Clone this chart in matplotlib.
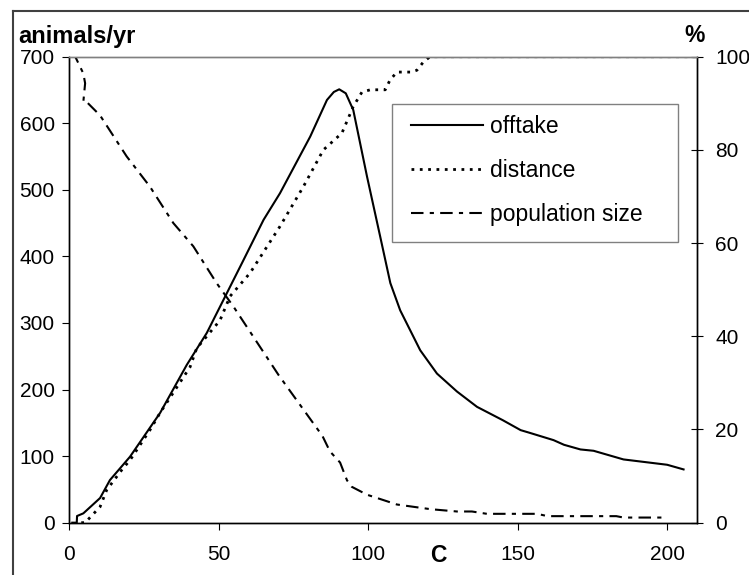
import matplotlib.pyplot as plt
from matplotlib.lines import Line2D
from matplotlib.patches import Rectangle

plt.rcParams['font.family'] = ['Liberation Sans', 'DejaVu Sans']

# offtake, animals/yr (left axis)
offtake_c = [1, 2.5, 2.6, 4.7, 10.3, 13.6, 20.3, 30.4, 39.3, 46, 51.5, 58, 65, 70.5, 80.6,
             86.2, 88.5, 90.3, 92.5, 95, 99.6, 104, 107.4, 110.7, 117.4, 123, 129.7, 136.4,
             145, 151, 154, 162, 165.5, 171, 175.4, 185.4, 200, 205.5]
offtake = [0, 0, 10, 14, 37, 64, 99, 165, 237, 285, 334, 392, 455, 495, 580,
           635, 647, 651, 645, 620, 520, 430, 360, 319, 259, 224, 197, 174,
           154, 139, 135, 124, 117, 110, 108, 95, 87, 80]

# distance, % (right axis)
distance_c = [4, 5.3, 10.3, 12.5, 18, 20.3, 27, 30.4, 40.4, 42.6, 50.4, 53.8, 60.5, 70.5,
              78.3, 85, 91.2, 95, 97.9, 100.7, 105.7, 107.3, 109.6, 114.5, 116.3, 118.5,
              120.7, 210]
distance = [0, 0, 3.4, 7.0, 11.7, 13.4, 19.9, 23.6, 33.4, 37.4, 43.4, 48.6, 53.6, 63.6,
            72.1, 80.0, 83.6, 89.3, 92.4, 92.9, 92.9, 95.0, 96.7, 96.7, 97.1, 98.9,
            100, 100]

# population size, % (right axis)
pop_c = [0, 2, 4.7, 5.3, 4.7, 5.8, 10.3, 19.2, 27, 34.8, 41.5, 49.3, 55, 70, 84.7, 87.2,
         90.6, 92.9, 94.5, 99.6, 109.6, 120.8, 129.7, 134.7, 139.7, 156.5, 160, 183,
         185.4, 200]
pop = [100, 100, 96.4, 94.3, 90.3, 90.3, 87.4, 78.6, 72.1, 64.3, 59.3, 51.4, 46.3, 31.7,
       18.6, 15.3, 12.9, 9.1, 7.7, 6.0, 3.9, 2.9, 2.4, 2.4, 1.9, 1.9, 1.4, 1.4, 1.1, 1.1]

W, H = 749, 575
fig = plt.figure(figsize=(W / 100, H / 100), dpi=100)
ax = fig.add_axes([0.0925, 0.091, 0.8381, 0.8104])
ax2 = ax.twinx()

l1, = ax.plot(offtake_c, offtake, color='black', lw=1.5)
l2, = ax2.plot(distance_c, distance, color='black', lw=2, ls=(0, (1, 2)))
l3, = ax2.plot(pop_c, pop, color='black', lw=1.5, ls=(0, (6, 3, 2, 3)))

ax.set_xlim(0, 210)
ax.set_ylim(0, 700)
ax2.set_ylim(0, 100)
ax.set_xticks([0, 50, 100, 150, 200])
ax.set_yticks(range(0, 701, 100))
ax2.set_yticks(range(0, 101, 20))

for a in (ax, ax2):
    for s in a.spines.values():
        s.set_linewidth(1)
    a.spines['top'].set_color('#808080')
ax.tick_params(axis='both', labelsize=15, length=5, direction='out')
ax.tick_params(axis='y', pad=5.5)
ax.tick_params(axis='x', pad=11)
ax2.tick_params(axis='y', labelsize=15, length=9, direction='inout', pad=8.5)

# legend: text/handles without frame, frame drawn at its own place
ax2.legend([l1, l2, l3], ['offtake', 'distance', 'population size'],
           loc='upper left', bbox_to_anchor=(410.7 / W, 1 - 115 / H),
           bbox_transform=fig.transFigure, borderaxespad=0, borderpad=0,
           fontsize=16.5, handlelength=3.15, handletextpad=0.3, labelspacing=0.92,
           frameon=False)
fig.add_artist(Rectangle((391.7 / W, 1 - 241.7 / H), 286 / W, 137.4 / H,
                         transform=fig.transFigure, fill=False,
                         edgecolor='#808080', lw=1))

fig.text(18 / W, 1 - 43 / H, 'animals/yr', fontsize=17, fontweight='bold',
         ha='left', va='baseline')
fig.text(705 / W, 1 - 42 / H, '%', fontsize=16.5, fontweight='bold',
         ha='right', va='baseline')
fig.text(438 / W, 1 - 555 / H, 'C', fontsize=16.5, fontweight='bold',
         ha='center', va='center')

# outer frame (top and left edges)
fig.add_artist(Line2D([13 / W, 1], [1 - 11 / H, 1 - 11 / H], color='#404040', lw=1.5))
fig.add_artist(Line2D([13 / W, 13 / W], [0, 1 - 11 / H], color='#404040', lw=1.5))

fig.savefig('out.png', dpi=100)
